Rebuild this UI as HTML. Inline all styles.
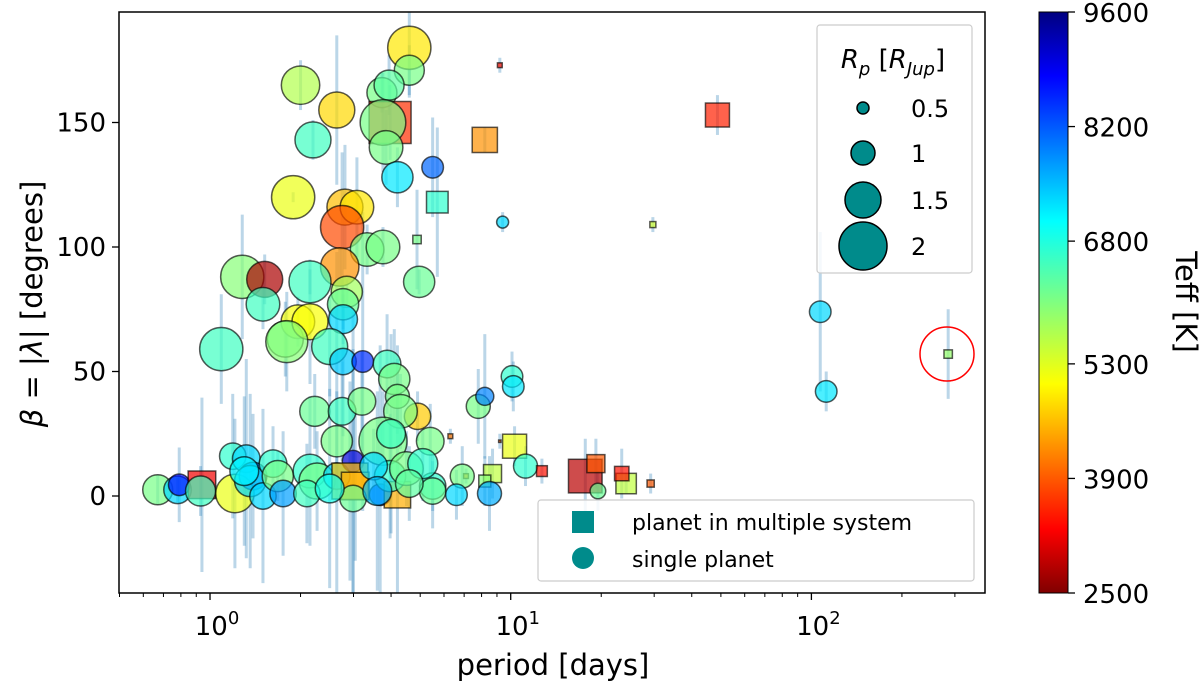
<!DOCTYPE html>
<html><head><meta charset="utf-8"><style>
body{margin:0;background:#fff;width:1200px;height:684px;overflow:hidden;font-family:"Liberation Sans","DejaVu Sans",sans-serif}
text{font-family:"DejaVu Sans","Liberation Sans",sans-serif}
</style></head><body>
<svg id="chart" width="1200" height="684" viewBox="0 0 1200 684">
<defs>
<clipPath id="plotclip"><rect x="119" y="12" width="866" height="581"/></clipPath>
<linearGradient id="jetgrad" x1="0" y1="1" x2="0" y2="0">
<stop offset="0" stop-color="#800000"/><stop offset="0.11" stop-color="#ff0000"/><stop offset="0.36" stop-color="#ffff00"/><stop offset="0.5" stop-color="#80ff80"/><stop offset="0.64" stop-color="#00ffff"/><stop offset="0.89" stop-color="#0000ff"/><stop offset="1" stop-color="#000080"/>
</linearGradient>
</defs>
<g id="errs" clip-path="url(#plotclip)"></g>
<g id="marks" clip-path="url(#plotclip)"></g>
<circle cx="947" cy="354" r="27" fill="none" stroke="#ff0000" stroke-width="1.5"/>
<rect x="119" y="12" width="866" height="581" fill="none" stroke="#000" stroke-width="1.5"/>
<g id="xaxis"></g>
<g id="yaxis"></g>
<text x="553" y="675" font-size="29" text-anchor="middle">period [days]</text>
<text transform="translate(42,304) rotate(-90)" font-size="29" text-anchor="middle"><tspan font-style="italic">β</tspan> = |<tspan font-style="italic">λ</tspan>| [degrees]</text>
<g>
<rect x="817" y="25" width="155" height="248" rx="3" fill="#fff" fill-opacity="0.85" stroke="#ccc" stroke-width="1.2"/>
<text x="893" y="68" font-size="26" text-anchor="middle" font-style="italic">R<tspan font-size="18" dy="7">p</tspan><tspan dy="-7" font-style="normal"> [</tspan>R<tspan font-size="18" dy="7">Jup</tspan><tspan dy="-7" font-style="normal">]</tspan></text>
<g id="sizeleg"></g>
</g>
<g>
<rect x="538" y="500" width="436" height="81" rx="3" fill="#fff" fill-opacity="0.85" stroke="#ccc" stroke-width="1.2"/>
<rect x="572" y="511" width="22" height="22" fill="#008b8b"/>
<text x="632" y="530" font-size="22">planet in multiple system</text>
<circle cx="583" cy="558" r="11" fill="#008b8b"/>
<text x="632" y="567" font-size="22">single planet</text>
</g>
<rect x="1039" y="12" width="29" height="581" fill="url(#jetgrad)" stroke="#000" stroke-width="1"/>
<g id="cbticks"></g>
<text transform="translate(1176,302) rotate(90)" font-size="29" text-anchor="middle">Teff [K]</text>
</svg>
<script>
const period=[4.6,4.6,2.0,3.73,3.94,2.64,3.97,3.76,3.85,2.2,8.2,5.5,4.2,5.7,1.89,2.81,3.08,2.75,4.88,3.33,3.76,2.7,4.96,1.28,1.52,2.15,2.85,1.5,2.77,2.77,1.96,1.78,
1.09,2.15,1.8,2.5,2.77,3.22,3.88,4.1,4.2,2.23,2.75,3.2,4.9,4.3,2.64,3.76,5.4,7.8,8.2,10.1,10.2,10.3,11.2,12.7,6.3,9.2,7.1,8.7,8.2,8.5,6.9,5.5,5.5,6.6,
0.67,0.78,0.79,0.94,0.93,1.21,1.19,1.32,1.39,1.36,1.5,1.62,1.68,1.75,2.15,2.27,2.1,2.64,2.99,2.92,3.04,2.99,3.68,4.2,3.97,4.5,5.1,3.5,4.6,
48.7,9.2,9.4,29.7,24.2,29.2,17.7,19.2,23.4,19.5,107,112,285,2.5,3.6,4.0,1.3];
const beta=[180,171,165,162,165,155,150,150,140,143,143,132,128,118,120,116,116,108,103,99,100,92,86,88,87,86,82,77,77,71,70,63,
59,70,62,60,54,54,53,47,40,34,34,38,32,34,22,22,22,36,40,48,44,20,12,10,24,22,8,9,6,1,8,4,2,0.5,
2.5,2.5,4.5,4.5,2,1,16,15,8,6,0,13,8,1,10,6,1,8,14,6,4,-1,0.5,0.5,8,11,13,12,5,
153,173,110,109,5,5,8,13,9,2,74,42,57,3,2,25,10];
const rp=[1.8,1.25,1.6,1.25,1.25,1.5,1.75,1.9,1.4,1.5,1.05,0.9,1.3,0.9,1.8,1.5,1.4,1.8,0.35,1.4,1.4,1.6,1.3,1.8,1.5,1.75,1.3,1.4,1.3,1.2,1.4,1.5,
1.8,1.5,1.75,1.5,1.1,0.9,1.15,1.3,1.0,1.25,1.15,1.15,1.1,1.4,1.3,2.0,1.15,1.0,0.75,0.9,0.9,1.0,1.0,0.45,0.2,0.1,0.2,0.75,0.5,1.0,1.0,1.1,1.1,0.9,
1.25,1.15,0.9,1.15,1.25,1.6,1.1,1.15,1.15,1.3,1.1,1.15,1.3,1.1,1.4,1.5,1.1,1.1,0.9,1.5,1.15,1.1,0.9,1.1,1.3,1.4,1.25,1.15,1.15,
1.0,0.2,0.5,0.25,0.85,0.3,1.4,0.75,0.6,0.65,0.9,0.9,0.35,1.2,1.2,1.2,1.2];
const teff=[5000,6100,5700,6100,6300,4900,3700,6100,6100,6500,4400,8000,7100,6600,5300,4700,5000,3900,6100,6100,6100,4400,6200,6000,2800,6500,5800,6500,6200,7200,5200,6100,
6500,5200,6000,6500,7300,8400,6500,6100,6100,6200,6500,6100,4800,6100,6100,6100,6100,6100,7800,6600,7100,5300,6600,3500,4200,4000,4500,5600,6000,7500,6100,6600,6200,7200,
6100,7200,8600,3300,6500,5300,6600,7200,7900,7200,7200,6600,6100,7600,6600,6100,6500,7200,9000,4700,4600,6200,8400,4600,6600,6100,6600,7200,6300,
3600,3500,7200,5500,5600,4000,2900,4000,3500,6200,7200,7100,5900,6800,7400,6500,7000];
const multi=[0,0,0,0,0,0,1,0,0,0,1,0,0,1,0,0,0,0,1,0,0,0,0,0,0,0,0,0,0,0,0,0,
0,0,0,0,0,0,0,0,0,0,0,0,0,0,0,0,0,0,0,0,0,1,0,1,1,1,1,1,1,0,0,0,0,0,
0,0,0,1,0,0,0,0,0,0,0,0,0,0,0,0,0,0,0,1,1,0,0,1,0,0,0,0,0,
1,1,0,1,1,1,1,1,1,0,0,0,1,0,0,0,0];
const err=[20,10,10,8,12,30,15,20,15,8,5,20,12,30,2,25,20,30,20,10,8,8,5,25,10,5,5,10,10,10,10,15,
22,25,20,20,30,60,20,20,15,15,20,20,10,15,20,20,15,15,25,10,10,8,8,5,3,3,3,10,10,15,12,10,15,10,
6,5,15,35,10,30,25,40,25,35,35,15,10,25,30,20,20,90,60,40,30,60,60,60,25,15,15,15,15,
8,3,4,3,4,4,15,10,10,8,32,8,18,40,40,40,30];
const xTicks=[0,1,2];
const yTicks=[0,50,100,150];
const cbTicks=[9600,8200,6800,5300,3900,2500];
const sizeLegend=[0.5,1,1.5,2];

const NS='http://www.w3.org/2000/svg';
const X0=119,X1=985,Y0=12,Y1=593;
const lmin=-0.3027,lmax=2.5773;
function xs(p){return X0+(Math.log10(p)-lmin)/(lmax-lmin)*(X1-X0);}
function ys(b){return 496-b*2.49;}
function cs(t){return 593-(t-2500)/(9600-2500)*581;}
function diam(r){return 24*r;}
function jet(t){let x=1-(t-2500)/7100;x=Math.max(0,Math.min(1,x));
const c=v=>Math.round(255*Math.max(0,Math.min(1,v)));
return 'rgb('+c(1.5-Math.abs(4*x-3))+','+c(1.5-Math.abs(4*x-2))+','+c(1.5-Math.abs(4*x-1))+')';}
function mk(tag,attrs,parent){const e=document.createElementNS(NS,tag);for(const k in attrs)e.setAttribute(k,attrs[k]);parent.appendChild(e);return e;}

const eg=document.getElementById('errs'),mg=document.getElementById('marks');
for(let i=0;i<period.length;i++){
 const x=xs(period[i]);
 const l=mk('line',{x1:x,x2:x,y1:ys(beta[i]-err[i]),y2:ys(beta[i]+err[i]),stroke:'#1f77b4','stroke-opacity':0.3,'stroke-width':3},eg);
 
 
}
for(let i=0;i<period.length;i++){
 const x=xs(period[i]),y=ys(beta[i]),d=diam(rp[i]);let e;
 if(multi[i]){e=mk('rect',{x:x-d/2,y:y-d/2,width:d,height:d},mg);}
 else{e=mk('circle',{cx:x,cy:y,r:d/2},mg);}
 e.setAttribute('fill',jet(teff[i]));e.setAttribute('fill-opacity',0.7);
 e.setAttribute('stroke','#000');e.setAttribute('stroke-opacity',0.65);e.setAttribute('stroke-width',1.5);
 
 
}
const xa=document.getElementById('xaxis');
for(let dec=-1;dec<=2;dec++){for(let m=1;m<10;m++){const p=m*Math.pow(10,dec);const lg=Math.log10(p);if(lg<lmin||lg>lmax)continue;
 const x=xs(p);const t=mk('line',{x1:x,x2:x,y1:593,y2:m===1?600:597,stroke:'#000','stroke-width':m===1?1.3:1},xa);
 
 }}
xTicks.forEach(k=>{const t=mk('text',{x:xs(Math.pow(10,k))+7,y:635,'font-size':26,'text-anchor':'middle'},xa);
 t.innerHTML='10<tspan font-size="18" dy="-11">'+k+'</tspan>';
 
 });
const ya=document.getElementById('yaxis');
yTicks.forEach(v=>{const y=ys(v);const l=mk('line',{x1:112,x2:119,y1:y,y2:y,stroke:'#000','stroke-width':1.3},ya);
 
 
 const t=mk('text',{x:106,y:y+9,'font-size':26,'text-anchor':'end'},ya);t.textContent=v;
 
 });
const cb=document.getElementById('cbticks');
cbTicks.forEach(v=>{const y=cs(v);const l=mk('line',{x1:1068,x2:1075,y1:y,y2:y,stroke:'#000','stroke-width':1.3},cb);
 
 
 const t=mk('text',{x:1083,y:y+10,'font-size':26},cb);t.textContent=v;
 
 });
const sl=document.getElementById('sizeleg');const sly=[108,153,200,246];
sizeLegend.forEach((r,i)=>{const c=mk('circle',{cx:863,cy:sly[i],r:diam(r)/2,fill:'#008b8b',stroke:'#000','stroke-width':1.5},sl);
 
 
 const t=mk('text',{x:911,y:sly[i]+9,'font-size':24},sl);t.textContent=r;
 
 });
</script>
</body></html>
